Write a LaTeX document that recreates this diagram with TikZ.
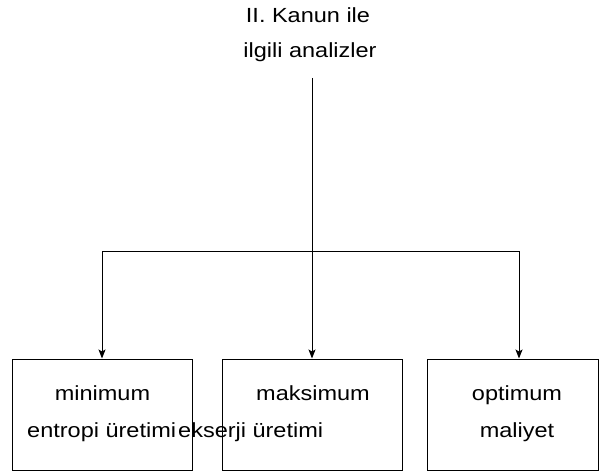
\documentclass[tikz,border=0pt]{standalone}
\usepackage{fontspec}
\usepackage{graphicx}
\setmainfont{Liberation Sans}
\usetikzlibrary{arrows.meta}
\newcommand{\sq}[1]{\scalebox{1}[0.87]{#1}}
\begin{document}
\begin{tikzpicture}[x=1pt,y=1pt,
  box/.style={draw=black,line width=1pt,inner sep=0pt},
  lbl/.style={font=\fontsize{23.5}{26}\selectfont,inner sep=0pt,anchor=base},
  conn/.style={draw=black,line width=1pt},
  arr/.style={conn,-{Stealth[width=7pt,length=9pt,inset=2pt]}}]
\useasboundingbox (0,0) rectangle (599,472);
\fill[white] (0,0) rectangle (599,472);
% boxes
\node[box,minimum width=180pt,minimum height=111pt] (b1) at (102,57.5) {};
\node[box,minimum width=180pt,minimum height=111pt] (b2) at (312,57.5) {};
\node[box,minimum width=171pt,minimum height=111pt] (b3) at (512.5,57.5) {};
% title
\node[lbl] (t1) at (308,449.7) {\sq{II. Kanun ile}};
\node[lbl] (t2) at (310,414.7) {\sq{ilgili analizler}};
\coordinate (top) at (312,394);
% texts
\node[lbl] (m1) at (102.5,72) {\sq{minimum}};
\node[lbl,anchor=base west] (e1) at (27,35) {\sq{entropi üretimi}};
\node[lbl] (m2) at (313,71.5) {\sq{maksimum}};
\node[lbl,anchor=base west] (e2) at (178,35) {\sq{ekserji üretimi}};
\node[lbl] (m3) at (517,71.5) {\sq{optimum}};
\node[lbl] (e3) at (517,35) {\sq{maliyet}};
% connectors
\coordinate (h1) at (102,221);
\coordinate (h3) at (519,221);
\draw[arr] (top) -- (b2.north);
\draw[arr] (h1) -- (h1 |- b1.north);
\draw[arr] (h3) -- (h3 |- b3.north);
\draw[conn] (h1) -- (h3);
\end{tikzpicture}
\end{document}
